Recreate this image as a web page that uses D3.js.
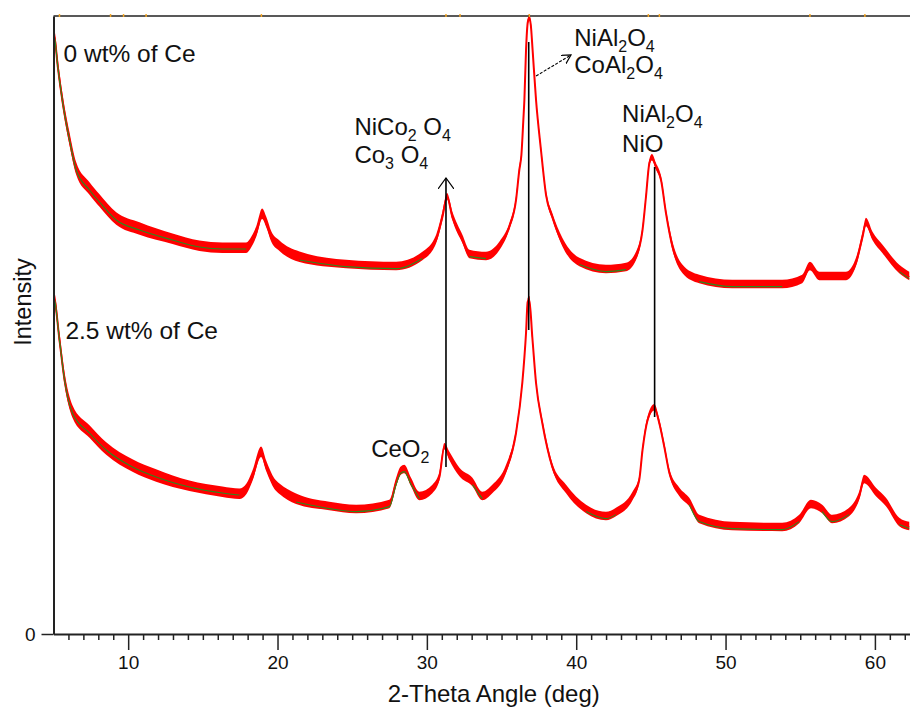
<!DOCTYPE html>
<html><head><meta charset="utf-8">
<script src="https://cdn.jsdelivr.net/npm/d3@7"></script>
<style>
html,body{margin:0;padding:0;background:#fff;overflow:hidden}
text{font-family:"Liberation Sans",Arial,sans-serif;fill:#111}
</style>
</head><body>
<svg id="chart" width="910" height="708"></svg>
<script>
// ---- data (2-theta in degrees, intensity in arbitrary units) ----
const angle0 = [5.00,5.07,5.29,5.62,6.07,6.52,7.41,8.08,9.20,10.76,12.97,14.77,16.31,17.90,18.25,18.57,18.97,19.24,19.59,20.13,21.47,24.59,27.94,29.70,30.62,31.04,31.35,31.71,32.38,32.85,33.96,34.85,35.52,35.97,36.19,36.33,36.46,36.53,36.64,36.76,36.86,36.96,37.08,37.31,37.64,37.98,38.40,39.07,40.21,41.99,43.33,44.00,44.44,44.67,44.90,45.07,45.34,45.68,46.01,46.45,47.12,48.24,50.45,53.79,55.13,55.65,56.27,58.06,58.73,59.17,59.40,59.84,60.51,61.63,62.30];
const intensity0 = [598,596,567,531,494,464,444,432,414,404,394,387,385,385,391,401,419,411,396,387,376,369,367,377,394,417,437,417,394,379,377,387,407,434,464,479,514,534,584,612,616,609,584,534,484,439,417,391,371,364,366,377,404,437,471,476,467,454,421,387,364,354,349,349,354,367,357,357,371,397,411,397,384,364,357];
const spread0 = [4,5,6,6,6,6,6,6,6,6,5,5,5,5,5,5,5,5,5,5,5,4,4,4,4,4,3,4,4,4,4,4,3,3,3,3,3,3,3,3,3,3,3,3,3,3,3,4,4,4,4,4,3,3,3,3,3,3,3,4,4,4,4,4,4,4,4,4,4,4,4,4,4,4,4];

const angle25 = [5.00,5.07,5.40,5.74,6.27,7.41,8.53,10.29,11.87,14.10,16.31,17.45,17.92,18.32,18.90,19.24,19.79,20.13,21.24,23.47,25.26,27.49,27.94,28.23,28.49,28.94,29.50,30.37,30.84,31.17,31.51,32.18,33.05,33.71,34.38,35.30,35.97,36.39,36.64,36.75,36.86,37.06,37.31,37.73,38.40,39.32,40.66,41.99,42.66,43.77,44.22,44.44,44.78,45.23,45.56,45.90,46.24,46.91,47.57,48.24,50.45,53.79,54.93,55.72,56.47,57.14,58.27,58.94,59.28,60.07,60.74,61.63,62.30];
const intensity25 = [336,334,294,254,221,201,184,167,157,147,141,139,144,157,181,167,149,144,134,127,124,129,151,162,164,151,137,144,157,187,177,161,151,137,144,164,201,251,301,332,334,297,251,211,167,144,124,117,121,137,154,184,214,226,211,187,161,141,131,114,107,106,114,129,124,114,121,137,154,141,131,111,107];
const spread25 = [4,5,6,6,6,6,6,6,6,5,5,5,5,5,5,5,5,5,5,4,4,4,4,4,4,4,4,4,4,3,4,4,4,4,4,4,3,3,3,3,3,3,3,3,3,4,4,4,4,4,3,3,3,3,3,3,3,4,4,4,4,4,4,4,4,4,4,4,4,4,4,4,4];

// background-fit ranges (green line visible)
const bgRanges = [[5,17.9],[20.3,30.3],[32.8,34.1],[40,43.5],[47.5,55],[56.4,58.3],[61,62.3]];
// peak markers on the top frame
const peakMarks = [5.40,8.82,9.69,11.2,18.92,31.28,32.22,36.86,44.83,45.57,55.65,59.33];

const xTicks = [10,20,30,40,50,60];
const yTicks = [0];
const sampleLabels = [
  {text:"0 wt% of Ce", angle:5.67, value:572},
  {text:"2.5 wt% of Ce", angle:5.80, value:295.5}
];
// phase labels: parts with subscripts
const phaseLabels = [
  {angle:25.15, value:499, parts:[["NiCo",0],["2",1],[" O",0],["4",1]]},
  {angle:25.15, value:471, parts:[["Co",0],["3",1],[" O",0],["4",1]]},
  {angle:39.87, value:588, parts:[["NiAl",0],["2",1],["O",0],["4",1]]},
  {angle:39.87, value:561, parts:[["CoAl",0],["2",1],["O",0],["4",1]]},
  {angle:43.07, value:512, parts:[["NiAl",0],["2",1],["O",0],["4",1]]},
  {angle:43.07, value:482, parts:[["NiO",0]]},
  {angle:26.27, value:177, parts:[["CeO",0],["2",1]]}
];
// vertical peak-link lines
const peakLines = [
  {angle:31.28, from:167, to:456, arrow:true},
  {angle:36.82, from:304, to:592, arrow:false},
  {angle:45.25, from:217, to:467, arrow:false}
];
const pointerArrow = {a0:37.31, v0:558, a1:39.65, v1:579};

// ---- drawing ----
const W = 910, H = 708;
const svg = d3.select("#chart");
const x = d3.scaleLinear().domain([5, 62.35]).range([53.5, 910]);
const y = d3.scaleLinear().domain([0, 618]).range([634, 16]);

const defs = svg.append("defs");
defs.append("marker").attr("id","vhead").attr("viewBox","0 0 12 16")
  .attr("refX",11).attr("refY",8).attr("markerWidth",12).attr("markerHeight",16)
  .attr("markerUnits","userSpaceOnUse").attr("orient","auto")
  .append("path").attr("d","M0,0L11,8L0,16").attr("fill","none").attr("stroke","#000").attr("stroke-width",1.2);
defs.append("marker").attr("id","shead").attr("viewBox","0 0 10 10")
  .attr("refX",9).attr("refY",5).attr("markerWidth",10).attr("markerHeight",10)
  .attr("markerUnits","userSpaceOnUse").attr("orient","auto")
  .append("path").attr("d","M0,0L9,5L0,10").attr("fill","none").attr("stroke","#000").attr("stroke-width",1.2);
defs.append("clipPath").attr("id","plotclip").append("rect")
  .attr("x",54).attr("y",10).attr("width",W-54).attr("height",630);

const plot = svg.append("g").attr("clip-path","url(#plotclip)");

function drawSeries(ang, val, spr){
  const pts = ang.map((a,i)=>({a, v:val[i], s:spr[i]}));
  const area = d3.area().x(d=>x(d.a)).y0(d=>y(d.v - d.s*0.8)).y1(d=>y(d.v + d.s*1.3)).curve(d3.curveMonotoneX);
  plot.append("path").datum(pts).attr("d",area).attr("fill","#ff0000");
  const line = d3.line().x(d=>x(d.a)).y(d=>y(d.v)).curve(d3.curveMonotoneX);
  plot.append("path").datum(pts).attr("d",line).attr("fill","none").attr("stroke","#ff0000").attr("stroke-width",2);
  bgRanges.forEach(r=>{
    const seg = pts.filter(d=>d.a>=r[0] && d.a<=r[1]);
    if (seg.length<2) return;
    const gl = d3.line().x(d=>x(d.a)).y(d=>y(d.v - (d.a<18?0:d.s*0.4))).curve(d3.curveMonotoneX);
    plot.append("path").datum(seg).attr("d",gl).attr("fill","none").attr("stroke","#2a8a1c").attr("stroke-width",1.1);
  });
}
drawSeries(angle0, intensity0, spread0);
drawSeries(angle25, intensity25, spread25);

// frame: top border
svg.append("line").attr("x1",53.5).attr("x2",W).attr("y1",y(618)).attr("y2",y(618))
  .attr("stroke","#222").attr("stroke-width",1.6);
svg.append("g").selectAll("line").data(peakMarks).join("line")
  .attr("x1",d=>x(d)).attr("x2",d=>x(d)).attr("y1",y(618)-2).attr("y2",y(618)+1)
  .attr("stroke","#f5a623").attr("stroke-width",1.5);

// x axis
const xAxisG = svg.append("g").attr("transform",`translate(0,${y(0)})`);
xAxisG.call(d3.axisBottom(x).tickValues(d3.range(6,63).filter(v=>v%10!==0)).tickSize(6).tickFormat("").tickSizeOuter(0));
xAxisG.select(".domain").remove();
const xMajor = svg.append("g").attr("transform",`translate(0,${y(0)})`)
  .call(d3.axisBottom(x).tickValues(xTicks).tickSize(16).tickPadding(6).tickSizeOuter(0).tickFormat(d3.format("d")));
xMajor.select(".domain").attr("stroke","#222").attr("stroke-width",2);
svg.selectAll(".tick line").attr("stroke","#222").attr("stroke-width",1.5);
xMajor.selectAll("text").attr("font-size",19).attr("font-family","Liberation Sans, Arial, sans-serif").attr("fill","#111");

// y axis
const yAxisG = svg.append("g").attr("transform","translate(53.5,0)")
  .call(d3.axisLeft(y).tickValues(yTicks).tickSize(12).tickPadding(6).tickSizeOuter(0));
yAxisG.select(".domain").attr("stroke","#222").attr("stroke-width",2);
yAxisG.selectAll(".tick line").attr("stroke","#222").attr("stroke-width",1.5);
yAxisG.selectAll("text").attr("font-size",19).attr("font-family","Liberation Sans, Arial, sans-serif").attr("fill","#111");

// axis titles
svg.append("text").attr("x",(x(5)+W)/2+12).attr("y",702).attr("text-anchor","middle")
  .attr("font-size",24).text("2-Theta Angle (deg)");
svg.append("text").attr("transform",`translate(31,302) rotate(-90)`).attr("text-anchor","middle")
  .attr("font-size",23.5).text("Intensity");

// sample labels
svg.append("g").selectAll("text").data(sampleLabels).join("text")
  .attr("x",d=>x(d.angle)).attr("y",d=>y(d.value)).attr("font-size",24.5).text(d=>d.text);

// peak link lines
svg.append("g").selectAll("line").data(peakLines).join("line")
  .attr("x1",d=>x(d.angle)).attr("x2",d=>x(d.angle))
  .attr("y1",d=>y(d.from)).attr("y2",d=>y(d.to))
  .attr("stroke","#000").attr("stroke-width",1.6)
  .attr("marker-end",d=>d.arrow?"url(#vhead)":null);
svg.append("line").attr("x1",x(pointerArrow.a0)).attr("y1",y(pointerArrow.v0))
  .attr("x2",x(pointerArrow.a1)).attr("y2",y(pointerArrow.v1))
  .attr("stroke","#000").attr("stroke-width",1.1).attr("stroke-dasharray","3,1.5")
  .attr("marker-end","url(#shead)");

// phase labels
phaseLabels.forEach(l=>{
  const t = svg.append("text").attr("x",x(l.angle)).attr("y",y(l.value)).attr("font-size",24)
    .attr("xml:space","preserve");
  let sub = false;
  l.parts.forEach(p=>{
    const ts = t.append("tspan").text(p[0]);
    if (p[1] && !sub){ ts.attr("dy",6).attr("font-size",16); sub = true; }
    else if (p[1] && sub){ ts.attr("font-size",16); }
    else if (!p[1] && sub){ ts.attr("dy",-6); sub = false; }
  });
});
</script>
</body></html>
